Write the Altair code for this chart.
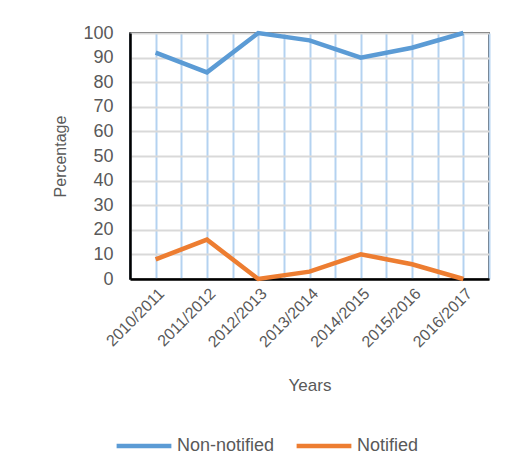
import altair as alt
import pandas as pd

years = ["2010/2011", "2011/2012", "2012/2013", "2013/2014", "2014/2015", "2015/2016", "2016/2017"]
non_notified = [92, 84, 100, 97, 90, 94, 100]
notified = [8, 16, 0, 3, 10, 6, 0]
series_names = ["Non-notified", "Notified"]
colors = ["#5B9BD5", "#ED7D31"]
y_ticks = list(range(0, 101, 10))

rows = []
for i, y in enumerate(years):
    rows.append({"idx": i, "year": y, "series": series_names[0], "value": non_notified[i]})
    rows.append({"idx": i, "year": y, "series": series_names[1], "value": notified[i]})
df = pd.DataFrame(rows)

n = len(years)
grid_vals = [k * 0.5 - 0.5 for k in range(2 * n + 1)]
label_expr = "[" + ",".join("'" + y + "'" for y in years) + "][datum.value]"
label_expr = "(datum.value % 1 == 0) ? " + label_expr + " : ''"

font = "Liberation Sans"
grey = "#595959"

chart = alt.Chart(df).mark_line(strokeWidth=4.5, strokeCap="butt").encode(
    x=alt.X("idx:Q",
            scale=alt.Scale(domain=[-0.5, n - 0.5], nice=False, zero=False),
            axis=alt.Axis(values=grid_vals, labelExpr=label_expr, title="Years",
                          labelAngle=-45, labelFontSize=16, labelColor=grey,
                          labelFont=font, labelPadding=6, ticks=False,
                          gridColor="#B4D2F0", gridWidth=2, gridOpacity=1,
                          domainColor="black", domainWidth=2.5,
                          titleFont=font, titleFontSize=17, titleFontWeight="normal",
                          titleColor=grey, titlePadding=28, labelOverlap=False,
                          labelBound=False, labelFlush=False)),
    y=alt.Y("value:Q",
            scale=alt.Scale(domain=[0, 100], nice=False),
            axis=alt.Axis(values=y_ticks, title="Percentage", labelFontSize=18,
                          labelColor=grey, labelFont=font, labelPadding=17,
                          ticks=False, gridColor="#D9D9D9", gridWidth=2,
                          domainColor="black", domainWidth=2.5,
                          titleFont=font, titleFontSize=16, titleFontWeight="normal",
                          titleColor=grey, titlePadding=14)),
    color=alt.Color("series:N",
                    scale=alt.Scale(domain=series_names, range=colors),
                    legend=alt.Legend(title=None, orient="none", direction="horizontal",
                                      legendX=-16, legendY=383,
                                      symbolType="stroke", symbolSize=3000,
                                      symbolStrokeWidth=4.5, labelFontSize=18,
                                      labelColor=grey, labelFont=font,
                                      labelOffset=3, columnPadding=12,
                                      labelLimit=300)),
    order="idx:Q",
).properties(
    width=359, height=246,
    padding={"left": 122, "top": 25, "right": 10, "bottom": 186},
    autosize=alt.AutoSizeParams(type="none"),
).configure_view(stroke="black", strokeWidth=1.5)

chart.save("out.html", embed_options={"renderer": "svg", "actions": False})
